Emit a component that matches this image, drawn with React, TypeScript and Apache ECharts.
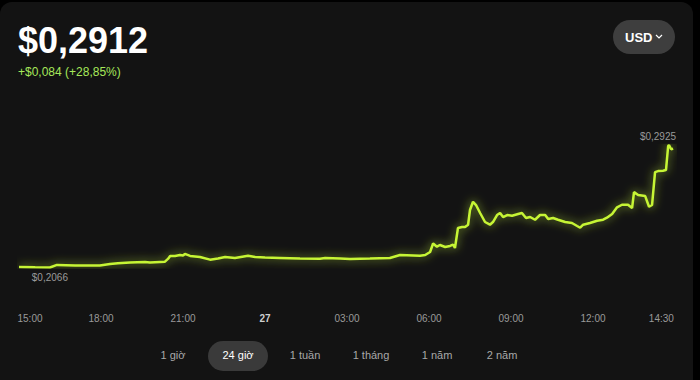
import React, { useEffect, useRef } from "react";
import * as echarts from "echarts";

// hours since 15:00 (day 26)
const hours = [
  0, 0.59, 1.13, 1.39, 2.05, 2.96, 3.33, 3.62, 4.06, 4.61, 4.79, 5.34, 5.45, 5.53, 5.71, 5.89, 6.0, 6.07,
  6.26, 6.62, 6.99, 7.28, 7.54, 7.9, 8.38, 8.64, 9.0, 9.55, 10.28, 11.01, 11.2, 11.75, 12.11, 12.84,
  13.57, 13.94, 14.67, 14.86, 15.04, 15.15, 15.29, 15.4, 15.59, 15.77, 15.88, 15.95, 16.06, 16.21,
  16.32, 16.43, 16.5, 16.61, 16.72, 16.87, 17.05, 17.23, 17.34, 17.49, 17.6, 17.71, 17.86, 18.04,
  18.26, 18.4, 18.55, 18.7, 18.88, 19.06, 19.25, 19.36, 19.54, 19.72, 19.98, 20.23, 20.42, 20.53,
  20.64, 20.89, 21.15, 21.37, 21.51, 21.7, 21.88, 22.06, 22.28, 22.43, 22.5, 22.65, 22.91, 23.05,
  23.16, 23.27, 23.38, 23.56, 23.67, 23.75, 23.78, 23.86, 23.93,
];
const prices = [
  0.207, 0.2067, 0.2066, 0.2084, 0.208, 0.208, 0.2091, 0.2095, 0.2101, 0.2105, 0.2101, 0.2107, 0.2126,
  0.2147, 0.2147, 0.2154, 0.215, 0.2161, 0.2147, 0.214, 0.2121, 0.2129, 0.214, 0.2133, 0.2149, 0.214,
  0.2136, 0.2133, 0.2129, 0.2128, 0.2133, 0.2129, 0.2126, 0.2129, 0.2133, 0.2154, 0.2149, 0.2154,
  0.2175, 0.2234, 0.2212, 0.2224, 0.221, 0.2217, 0.2226, 0.2203, 0.2343, 0.235, 0.235, 0.2366, 0.2469,
  0.2527, 0.2504, 0.2448, 0.2385, 0.2366, 0.2385, 0.2434, 0.2448, 0.242, 0.2434, 0.2429, 0.2441,
  0.2448, 0.2413, 0.242, 0.2401, 0.2434, 0.2434, 0.2406, 0.2413, 0.2401, 0.2385, 0.2378, 0.2357,
  0.2345, 0.2366, 0.2378, 0.2394, 0.2401, 0.2415, 0.2441, 0.2488, 0.2506, 0.2506, 0.2483, 0.2595,
  0.2574, 0.2567, 0.2492, 0.2504, 0.2735, 0.2742, 0.2745, 0.2749, 0.2918, 0.2925, 0.2895, 0.29,
];
const tickHours = [0, 3, 6, 9, 12, 15, 18, 21, 23.5];
const tickLabels = ["15:00", "18:00", "21:00", "27", "03:00", "06:00", "09:00", "12:00", "14:30"];
const ranges = ["1 giờ", "24 giờ", "1 tuần", "1 tháng", "1 năm", "2 năm"];
const selectedRange = "24 giờ";
const price = "$0,2912";
const change = "+$0,084 (+28,85%)";
const currency = "USD";

const fmt = (v: number) => "$" + v.toFixed(4).replace(".", ",");
const LINE = "#c6f534";
const FONT = "Liberation Sans, Arial, sans-serif";

export default function App() {
  const ref = useRef<HTMLDivElement>(null);
  useEffect(() => {
    document.body.style.margin = "0";
    document.body.style.background = "#000";
    if (!ref.current) return;
    const chart = echarts.init(ref.current, null, { renderer: "svg" });
    const data = hours.map((h, i) => [h, prices[i]]);
    const rangeX = [173, 238, 305, 371, 437, 502];
    chart.setOption({
      animation: false,
      backgroundColor: "transparent",
      grid: { left: 19, right: 25, top: 145, bottom: 112.5 },
      xAxis: {
        type: "value",
        min: 0,
        max: 24,
        axisLine: { show: false },
        axisTick: { show: false },
        splitLine: { show: false },
        axisLabel: {
          customValues: tickHours,
          margin: 46,
          color: "#9a9a9a",
          fontSize: 10,
          fontFamily: FONT,
          formatter: (v: number) => {
            const i = tickHours.indexOf(v);
            const t = i >= 0 ? tickLabels[i] : "";
            if (i === 0) return "{first|" + t + "}";
            return t === "27" ? "{bold|" + t + "}" : t;
          },
          rich: {
            bold: { color: "#cfcfcf", fontWeight: "bold", fontSize: 10, fontFamily: FONT },
            first: { color: "#9a9a9a", fontSize: 10, fontFamily: FONT, padding: [0, 0, 0, 22] },
          },
        },
      },
      yAxis: {
        type: "value",
        min: 0.2066,
        max: 0.2925,
        show: false,
        splitLine: { show: false },
      },
      series: [
        {
          type: "line",
          data,
          showSymbol: false,
          lineStyle: {
            color: LINE,
            width: 2.5,
            shadowColor: "rgba(198,245,52,0.75)",
            shadowBlur: 10,
          },
          markPoint: {
            symbol: "circle",
            symbolSize: 0,
            data: [
              { type: "min", label: { offset: [0, 10] } },
              { type: "max", label: { offset: [-11, -9] } },
            ],
            label: {
              show: true,
              color: "#9a9a9a",
              fontSize: 10,
              fontFamily: FONT,
              formatter: (p: any) => fmt(p.value),
            },
          },
        },
      ],
      graphic: [
        {
          type: "text",
          left: 18,
          top: 22,
          style: { text: price, fill: "#ffffff", font: "bold 36px " + FONT },
        },
        {
          type: "text",
          left: 18,
          top: 66,
          style: { text: change, fill: "#a6e85a", font: "12px " + FONT },
        },
        {
          type: "rect",
          shape: { x: 613, y: 20, width: 62, height: 34, r: 17 },
          style: { fill: "#3e3e3e" },
        },
        {
          type: "text",
          x: 625,
          y: 37,
          style: { text: currency, fill: "#ffffff", font: "bold 13px " + FONT, verticalAlign: "middle" },
        },
        {
          type: "polyline",
          shape: { points: [[656, 35], [659, 38], [662, 35]] },
          style: { stroke: "#ffffff", lineWidth: 1.2, fill: null },
        },
        {
          type: "rect",
          shape: { x: 208, y: 341, width: 60, height: 30, r: 15 },
          style: { fill: "#3a3a3a" },
        },
        ...ranges.map((r, i) => ({
          type: "text",
          x: rangeX[i],
          y: 355,
          style: {
            text: r,
            fill: r === selectedRange ? "#ffffff" : "#a8a8a8",
            font: "11px " + FONT,
            align: "center",
            verticalAlign: "middle",
          },
        })),
      ],
    });
    return () => chart.dispose();
  }, []);
  return (
    <div style={{ width: 700, height: 380, background: "#000", position: "relative" }}>
      <div
        style={{
          position: "absolute",
          left: 0,
          top: 2,
          width: 693,
          height: 378,
          background: "#131313",
          borderTopLeftRadius: 12,
          borderTopRightRadius: 12,
        }}
      />
      <div ref={ref} style={{ position: "absolute", left: 0, top: 0, width: 700, height: 380 }} />
    </div>
  );
}
